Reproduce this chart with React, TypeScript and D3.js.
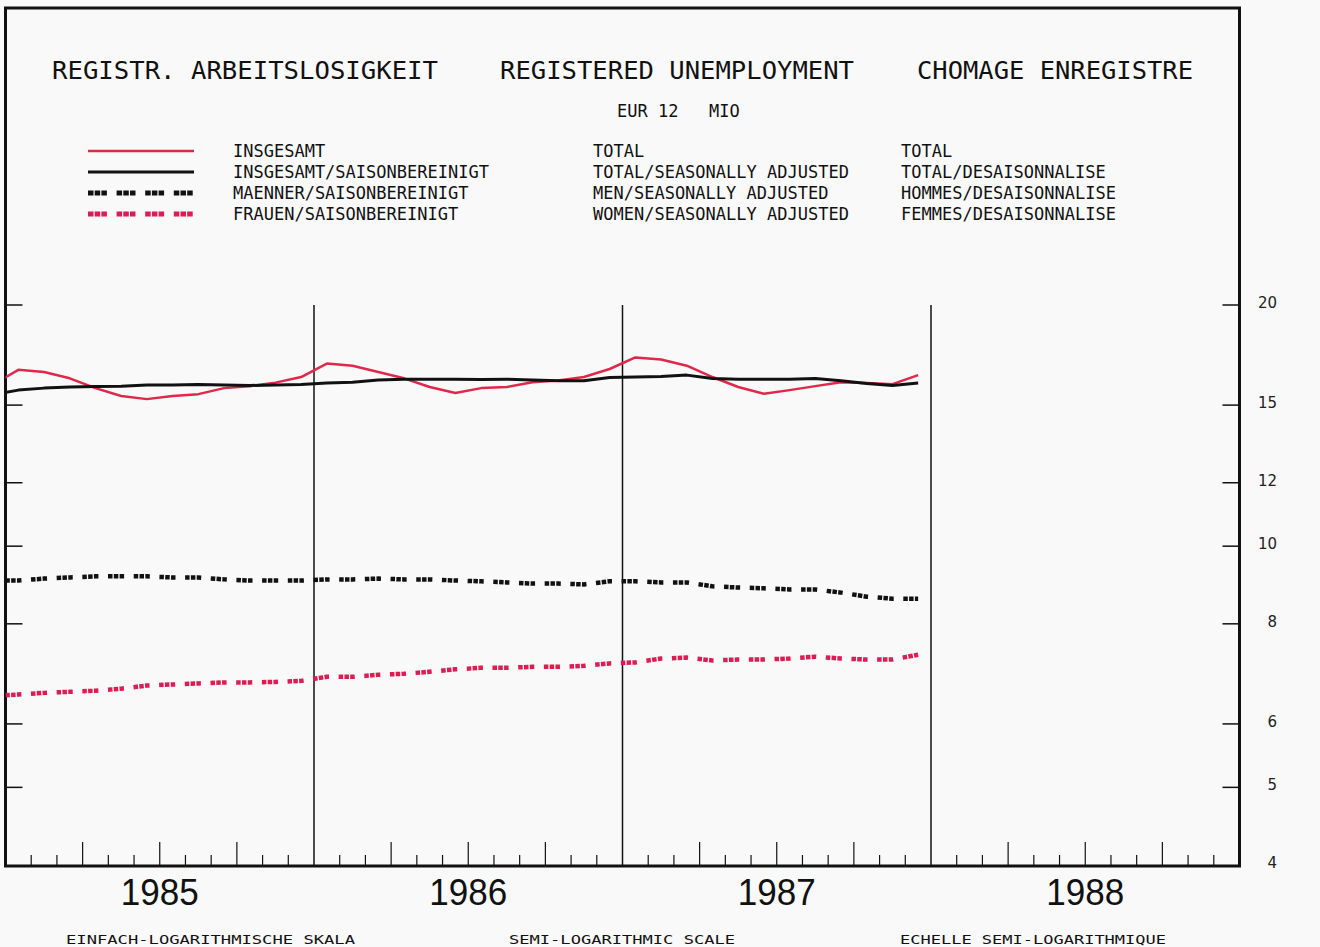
import React, { useEffect, useRef } from 'react';
import * as d3 from 'd3';

// monthly values in millions, Dec 1984 .. Dec 1987 (the Dec 1984 point sits left of the frame and is clipped)
const totalRaw = [
  15.90,
  16.60, 16.50, 16.20, 15.75, 15.40, 15.26, 15.40, 15.48, 15.75, 15.84, 16.00, 16.26,
  16.90, 16.80, 16.50, 16.20, 15.80, 15.53, 15.75, 15.80, 16.02, 16.10, 16.26, 16.64,
  17.20, 17.10, 16.80, 16.26, 15.80, 15.50, 15.66, 15.84, 16.02, 15.98, 15.93, 16.35,
];
const totalSA = [
  15.45,
  15.66, 15.75, 15.80, 15.82, 15.84, 15.89, 15.89, 15.91, 15.89, 15.87, 15.89, 15.91,
  15.98, 16.02, 16.12, 16.16, 16.16, 16.16, 16.14, 16.16, 16.12, 16.09, 16.09, 16.24,
  16.26, 16.28, 16.35, 16.19, 16.16, 16.16, 16.16, 16.19, 16.09, 15.96, 15.87, 15.98,
];
const menSA = [
  9.06,
  9.06, 9.11, 9.14, 9.17, 9.17, 9.17, 9.14, 9.14, 9.09, 9.06, 9.06, 9.06,
  9.09, 9.09, 9.11, 9.09, 9.09, 9.06, 9.04, 9.01, 8.98, 8.98, 8.96, 9.04,
  9.04, 9.01, 9.01, 8.91, 8.88, 8.86, 8.83, 8.83, 8.75, 8.65, 8.60, 8.60,
];
const womenSA = [
  6.50,
  6.53, 6.56, 6.58, 6.60, 6.64, 6.70, 6.72, 6.74, 6.76, 6.76, 6.77, 6.79,
  6.87, 6.87, 6.91, 6.93, 6.97, 7.02, 7.05, 7.05, 7.07, 7.07, 7.09, 7.14,
  7.16, 7.24, 7.26, 7.20, 7.22, 7.22, 7.24, 7.28, 7.24, 7.22, 7.22, 7.32,
];

const years = [1985, 1986, 1987, 1988];
const yTicks = [4, 5, 6, 8, 10, 12, 15, 20];

const titles = ['REGISTR. ARBEITSLOSIGKEIT', 'REGISTERED UNEMPLOYMENT', 'CHOMAGE ENREGISTRE'];
const subtitle = 'EUR 12   MIO';
const legendDe = ['INSGESAMT', 'INSGESAMT/SAISONBEREINIGT', 'MAENNER/SAISONBEREINIGT', 'FRAUEN/SAISONBEREINIGT'];
const legendEn = ['TOTAL', 'TOTAL/SEASONALLY ADJUSTED', 'MEN/SEASONALLY ADJUSTED', 'WOMEN/SEASONALLY ADJUSTED'];
const legendFr = ['TOTAL', 'TOTAL/DESAISONNALISE', 'HOMMES/DESAISONNALISE', 'FEMMES/DESAISONNALISE'];
const scaleNotes = ['EINFACH-LOGARITHMISCHE SKALA', 'SEMI-LOGARITHMIC SCALE', 'ECHELLE SEMI-LOGARITHMIQUE'];

const RED = '#e0284a';
const PINK = '#dc1c52';
const MONO = '"DejaVu Sans Mono", monospace';

function UnemploymentChart() {
  const ref = useRef<SVGSVGElement>(null);

  useEffect(() => {
    const svg = d3.select(ref.current);
    svg.selectAll('*').remove();

    const W = 1320, H = 947;
    const left = 5.5, right = 1239.5, top = 8, bottom = 866;

    // one unit = one month from Jan 1985
    const x = d3.scaleLinear().domain([0, 48]).range([left, right]);
    const y = d3.scaleLog().domain([4, 20]).range([865, 305]);

    svg.append('rect').attr('width', W).attr('height', H).attr('fill', '#f9f9f9');

    svg.append('defs').append('clipPath').attr('id', 'plot-clip')
      .append('rect')
      .attr('x', left).attr('y', top)
      .attr('width', right - left).attr('height', bottom - top);

    // titles
    const titleX = [52, 500, 917];
    const titleW = [386, 354, 276];
    svg.selectAll('.title')
      .data(titles)
      .join('text')
      .attr('class', 'title')
      .attr('x', (_, i) => titleX[i])
      .attr('y', 79)
      .attr('textLength', (_, i) => titleW[i])
      .attr('lengthAdjust', 'spacingAndGlyphs')
      .style('font-family', MONO)
      .style('font-size', '25px')
      .style('fill', '#111')
      .text(d => d);

    svg.append('text')
      .attr('x', 617).attr('y', 117)
      .style('font-family', MONO).style('font-size', '17px').style('fill', '#111')
      .style('white-space', 'pre')
      .attr('xml:space', 'preserve')
      .text(subtitle);

    // legend
    const legendY = [151, 172, 193, 214];
    const legendStyles = [
      { color: RED, width: 2.5, dash: null },
      { color: '#111', width: 3, dash: null },
      { color: '#111', width: 5, dash: '5.5,1.2,5.5,1.2,5.5,9.7' },
      { color: PINK, width: 5, dash: '5.5,1.2,5.5,1.2,5.5,9.7' },
    ];
    legendStyles.forEach((s, i) => {
      const l = svg.append('line')
        .attr('x1', 88).attr('x2', 194)
        .attr('y1', legendY[i]).attr('y2', legendY[i])
        .attr('stroke', s.color).attr('stroke-width', s.width);
      if (s.dash) l.attr('stroke-dasharray', s.dash);
    });
    [[legendDe, 233], [legendEn, 593], [legendFr, 901]].forEach(([labels, lx]) => {
      svg.append('g').selectAll('text')
        .data(labels as string[])
        .join('text')
        .attr('x', lx as number)
        .attr('y', (_, i) => legendY[i] + 6)
        .style('font-family', MONO)
        .style('font-size', '17px')
        .style('fill', '#111')
        .text(d => d);
    });

    // ticks on the left and right axes
    const inner = yTicks.filter(t => t !== 4);
    svg.selectAll('.ltick').data(inner).join('line').attr('class', 'ltick')
      .attr('x1', left).attr('x2', left + 17)
      .attr('y1', d => y(d)).attr('y2', d => y(d))
      .attr('stroke', '#111').attr('stroke-width', 1.5);
    svg.selectAll('.rtick').data(inner).join('line').attr('class', 'rtick')
      .attr('x1', right - 17).attr('x2', right)
      .attr('y1', d => y(d)).attr('y2', d => y(d))
      .attr('stroke', '#111').attr('stroke-width', 1.5);
    svg.selectAll('.ylabel').data(yTicks).join('text').attr('class', 'ylabel')
      .attr('x', 1277)
      .attr('y', d => y(d) + 3)
      .attr('text-anchor', 'end')
      .style('font-family', '"DejaVu Sans", sans-serif')
      .style('font-size', '15px')
      .style('fill', '#222')
      .text(d => d);

    // month ticks, quarter ticks and year separators
    const months = d3.range(1, 48);
    svg.selectAll('.mtick').data(months).join('line').attr('class', 'mtick')
      .attr('x1', d => x(d)).attr('x2', d => x(d))
      .attr('y1', bottom)
      .attr('y2', d => d % 12 === 0 ? y(20) : d % 3 === 0 ? bottom - 24 : bottom - 11)
      .attr('stroke', '#111')
      .attr('stroke-width', d => d % 12 === 0 ? 1.5 : 1.2);

    // frame
    svg.append('rect')
      .attr('x', left).attr('y', top)
      .attr('width', right - left).attr('height', bottom - top)
      .attr('fill', 'none').attr('stroke', '#111').attr('stroke-width', 3);

    // series
    const line = d3.line<number>()
      .x((_, i) => x(i - 0.5))
      .y(d => y(d));
    const plot = svg.append('g').attr('clip-path', 'url(#plot-clip)');

    plot.append('path').datum(menSA)
      .attr('d', line).attr('fill', 'none')
      .attr('stroke', '#111').attr('stroke-width', 4.5)
      .attr('stroke-dasharray', '4.5,1.3,4.5,1.3,4.5,9.6')
      .attr('stroke-dashoffset', 13);
    plot.append('path').datum(womenSA)
      .attr('d', line).attr('fill', 'none')
      .attr('stroke', PINK).attr('stroke-width', 4.5)
      .attr('stroke-dasharray', '4.5,1.3,4.5,1.3,4.5,9.6')
      .attr('stroke-dashoffset', 13);
    plot.append('path').datum(totalRaw)
      .attr('d', line).attr('fill', 'none')
      .attr('stroke', RED).attr('stroke-width', 2.5)
      .attr('stroke-linejoin', 'round');
    plot.append('path').datum(totalSA)
      .attr('d', line).attr('fill', 'none')
      .attr('stroke', '#111').attr('stroke-width', 3)
      .attr('stroke-linejoin', 'round');

    // year labels
    svg.selectAll('.year').data(years).join('text').attr('class', 'year')
      .attr('x', (_, i) => x(i * 12 + 6))
      .attr('y', 905)
      .attr('text-anchor', 'middle')
      .attr('textLength', 78)
      .attr('lengthAdjust', 'spacingAndGlyphs')
      .style('font-family', '"Liberation Sans", Arial, sans-serif')
      .style('font-size', '37px')
      .style('fill', '#111')
      .text(d => d);

    // scale notes
    const noteX = [66, 509, 900];
    const noteW = [289, 226, 266];
    svg.selectAll('.note').data(scaleNotes).join('text').attr('class', 'note')
      .attr('x', (_, i) => noteX[i])
      .attr('y', 944)
      .attr('textLength', (_, i) => noteW[i])
      .attr('lengthAdjust', 'spacingAndGlyphs')
      .style('font-family', MONO)
      .style('font-size', '13px')
      .style('fill', '#111')
      .text(d => d);
  }, []);

  return <svg ref={ref} width={1320} height={947} style={{ position: 'absolute', left: 0, top: 0 }} />;
}

export default function App() {
  return <UnemploymentChart />;
}
